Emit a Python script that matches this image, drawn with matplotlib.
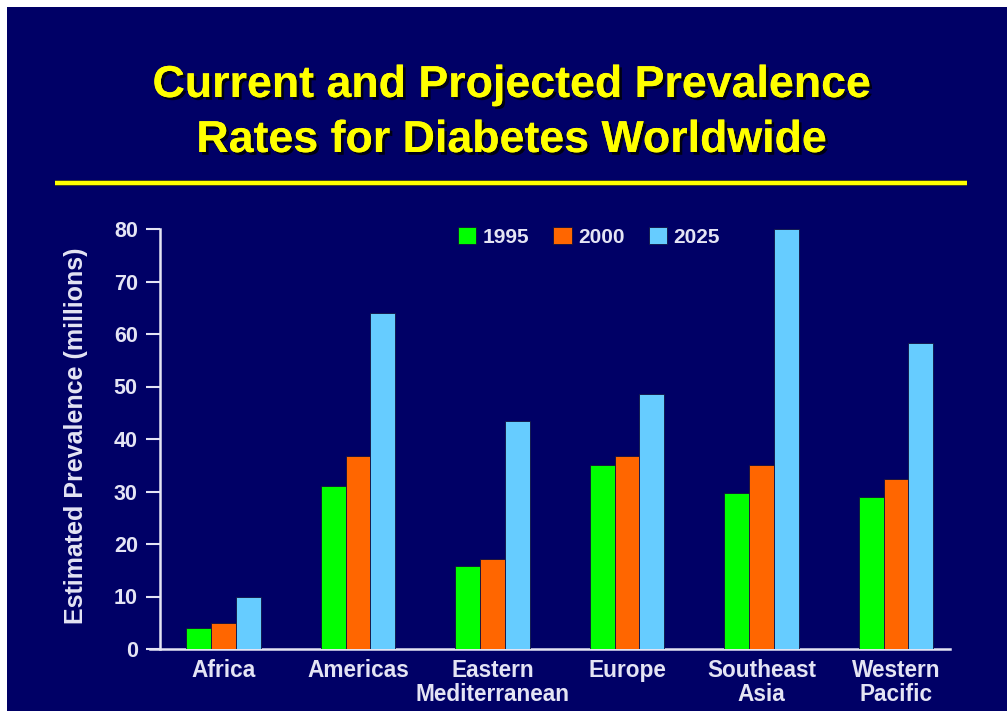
import matplotlib
matplotlib.use("Agg")
import matplotlib.pyplot as plt
import matplotlib.patheffects as pe
from matplotlib.patches import Patch, Rectangle
from matplotlib.lines import Line2D
import numpy as np

regions = ["Africa", "Americas", "Eastern\nMediterranean", "Europe",
           "Southeast\nAsia", "Western\nPacific"]
years = ["1995", "2000", "2025"]
prev_1995 = [4.0, 31.0, 15.9, 35.0, 29.8, 28.9]
prev_2000 = [4.9, 36.7, 17.2, 36.7, 35.0, 32.4]
prev_2025 = [10.0, 64.0, 43.4, 48.6, 80.0, 58.2]
yticks = [0, 10, 20, 30, 40, 50, 60, 70, 80]

NAVY = "#000066"
LIGHT = "#E4E4F4"
colors = ["#00FF00", "#FF6600", "#66CCFF"]

plt.rcParams["font.family"] = ["Liberation Sans", "DejaVu Sans"]
plt.rcParams["font.weight"] = "bold"

fig = plt.figure(figsize=(10.07, 7.11), dpi=100)
fig.patch.set_facecolor("white")
# navy slide background with a thin white margin on the top and left
fig.add_artist(Rectangle((7 / 1007, 0), 1, 1 - 7 / 711, transform=fig.transFigure,
                         facecolor=NAVY, edgecolor="none", zorder=-10))

shadow = [pe.withSimplePatchShadow(offset=(2, -2), shadow_rgbFace="#000000", alpha=0.8),
          pe.Normal()]
fig.text(0.508, 1 - 97 / 711, "Current and Projected Prevalence", ha="center",
         va="baseline", color="#FFFF00", fontsize=32.2, fontweight="bold",
         path_effects=shadow)
fig.text(0.508, 1 - 152 / 711, "Rates for Diabetes Worldwide", ha="center",
         va="baseline", color="#FFFF00", fontsize=32.2, fontweight="bold",
         path_effects=shadow)
sep = Line2D([55 / 1007, 967 / 1007], [1 - 183 / 711] * 2, transform=fig.transFigure,
             color="#FFFF00", linewidth=3.0, solid_capstyle="butt",
             path_effects=[pe.Stroke(linewidth=4.2, foreground="#3a3a20"), pe.Normal()])
fig.add_artist(sep)

ax = fig.add_axes([160 / 1007, 1 - 649 / 711, 790 / 1007, 420 / 711])
ax.set_facecolor("none")

x = np.arange(len(regions))
w = 0.184
series = [prev_1995, prev_2000, prev_2025]
for i, (vals, c) in enumerate(zip(series, colors)):
    ax.bar(x + (i - 1) * w, vals, width=w, color=c, edgecolor="#101040",
           linewidth=0.6, zorder=3)

ax.set_xlim(-0.472, 5.401)
ax.set_ylim(0, 80)
ax.set_yticks(yticks)
ax.set_yticklabels([str(v) for v in yticks], fontsize=15.5, fontweight="bold", color=LIGHT)
ax.set_xticks(x)
ax.set_xticklabels(regions, fontsize=16.3, fontweight="bold", color=LIGHT, linespacing=1.05)
ax.tick_params(axis="y", length=10, width=1.5, color=LIGHT, pad=6)
ax.tick_params(axis="x", length=0, pad=7)
for s in ["top", "right"]:
    ax.spines[s].set_visible(False)
for s in ["left", "bottom"]:
    ax.spines[s].set_color(LIGHT)
    ax.spines[s].set_linewidth(1.8)
ax.spines["bottom"].set_bounds(-0.472 - 10 / 134.5, 5.401)
ax.spines["bottom"].set_clip_on(False)

fig.text(76 / 1007, 1 - 436 / 711, "Estimated Prevalence (millions)", rotation=90,
         ha="center", va="center", fontsize=18, fontweight="bold", color=LIGHT)

handles = [Patch(facecolor=c, edgecolor="#101040", linewidth=0.6) for c in colors]
ax.legend(handles, years, loc="center", bbox_to_anchor=(0.543, 0.981), ncol=3,
          frameon=False, handlelength=0.9, handleheight=0.9,
          handletextpad=0.3, columnspacing=1.15, borderpad=0,
          labelcolor=LIGHT, prop={"weight": "bold", "size": 15})

fig.savefig("out.png", dpi=100, facecolor=fig.get_facecolor())
